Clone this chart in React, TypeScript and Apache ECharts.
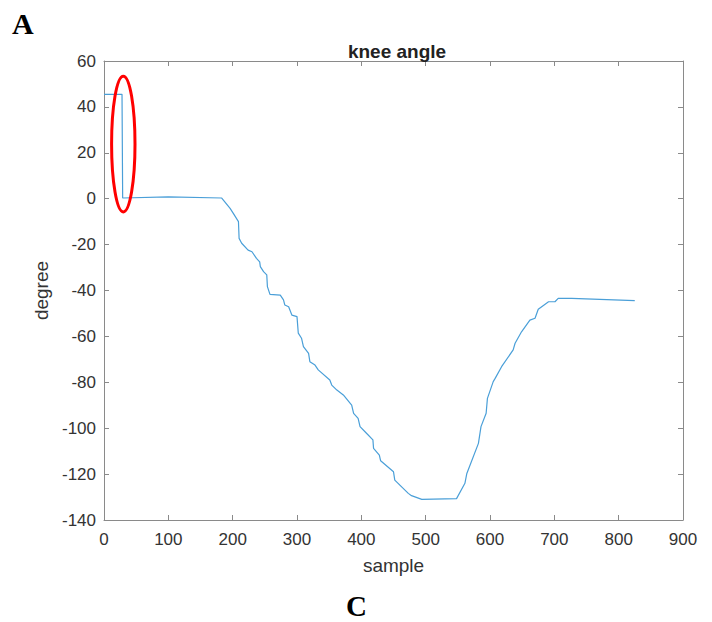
import React, { useEffect, useRef } from "react";
import * as echarts from "echarts";

// sample index along the x axis
const samples: number[] = [
  0, 28, 29, 100, 183, 196, 201, 209, 210, 214, 224, 230, 237, 242, 243, 248, 253, 254, 258,
  274, 279, 281, 287, 292, 300, 302, 307, 310, 318, 320, 328, 333, 351, 354, 362, 372, 385,
  388, 395, 398, 408, 418, 419, 428, 430, 450, 452, 473, 478, 494, 548, 561, 564, 582, 586,
  594, 596, 605, 608, 618, 636, 639, 649, 662, 670, 675, 691, 701, 706, 727, 825,
];
// knee angle in degrees
const angles: number[] = [
  45.5, 45.5, 0.3, 0.8, 0.3, -4.2, -6.4, -10, -17.3, -19.4, -22.4, -23.1, -26, -27.5, -29.6,
  -31.8, -33.2, -38.3, -41.7, -42, -44.1, -46.3, -47.1, -50.7, -51.4, -58.6, -60.8, -64.5,
  -67.4, -71, -72.5, -74.6, -79, -81.2, -83.4, -85.5, -89.9, -93.5, -95.7, -99.3, -102.2,
  -105.1, -108.8, -111.7, -114.2, -119, -122.6, -128.4, -129.4, -131, -130.7, -124, -119.7,
  -106.6, -99.3, -93.5, -87, -79.7, -78.3, -73.2, -65.9, -63, -58, -52.9, -52.1, -48.2,
  -44.9, -44.9, -43.4, -43.4, -44.4,
];
// highlighted region (ellipse) in data units: center and radii
const highlightCenter: [number, number] = [30, 23.8];
const highlightRadius: [number, number] = [18.2, 29.6];

const xMin = 0;
const xMax = 900;
const xStep = 100;
const yMin = -140;
const yMax = 60;
const yStep = 20;

export default function App() {
  const ref = useRef<HTMLDivElement>(null);
  useEffect(() => {
    if (!ref.current) return;
    const chart = echarts.init(ref.current, null, { renderer: "svg" });
    const textColor = "#333333";
    const lineColor = "#8a8a8a";
    const font = "Liberation Sans, Arial, sans-serif";
    const baseAxis = {
      type: "value" as const,
      axisLine: { show: true, onZero: false, lineStyle: { color: lineColor, width: 1 } },
      axisTick: { show: true, inside: true, length: 5, lineStyle: { color: lineColor } },
      splitLine: { show: false },
    };
    chart.setOption({
      animation: false,
      backgroundColor: "#ffffff",
      title: {
        text: "knee angle",
        left: 392,
        top: 37,
        textAlign: "center",
        textStyle: { fontFamily: font, fontSize: 19, fontWeight: "bold", color: "#222" },
      },
      grid: { left: 104, right: 29, top: 61, bottom: 102, containLabel: false },
      xAxis: [
        {
          ...baseAxis,
          position: "bottom",
          min: xMin,
          max: xMax,
          interval: xStep,
          name: "sample",
          nameLocation: "middle",
          nameGap: 36,
          nameTextStyle: { fontFamily: font, fontSize: 19, color: textColor },
          axisLabel: { fontFamily: font, fontSize: 17, color: textColor, margin: 11 },
        },
        {
          ...baseAxis,
          position: "top",
          min: xMin,
          max: xMax,
          interval: xStep,
          axisLabel: { show: false },
        },
      ],
      yAxis: [
        {
          ...baseAxis,
          position: "left",
          min: yMin,
          max: yMax,
          interval: yStep,
          name: "degree",
          nameLocation: "middle",
          nameGap: 51,
          nameTextStyle: { fontFamily: font, fontSize: 19, color: textColor },
          axisLabel: { fontFamily: font, fontSize: 17, color: textColor, margin: 8 },
        },
        {
          ...baseAxis,
          position: "right",
          min: yMin,
          max: yMax,
          interval: yStep,
          axisLabel: { show: false },
        },
      ],
      series: [
        {
          type: "line",
          xAxisIndex: 0,
          yAxisIndex: 0,
          data: samples.map((s, i) => [s, angles[i]]),
          showSymbol: false,
          symbol: "none",
          lineStyle: { color: "#4a9fd8", width: 1.2 },
        },
      ],
    });
    const c = chart.convertToPixel({ gridIndex: 0 }, highlightCenter) as number[];
    const e = chart.convertToPixel({ gridIndex: 0 }, [
      highlightCenter[0] + highlightRadius[0],
      highlightCenter[1] + highlightRadius[1],
    ]) as number[];
    chart.setOption({
      graphic: [
        {
          type: "ellipse",
          shape: { cx: c[0], cy: c[1], rx: Math.abs(e[0] - c[0]), ry: Math.abs(e[1] - c[1]) },
          style: { fill: "none", stroke: "#ff0000", lineWidth: 3 },
          z: 100,
        },
        {
          type: "text",
          left: 12,
          top: 8,
          style: {
            text: "A",
            font: "bold 30px 'Liberation Serif', 'Times New Roman', serif",
            fill: "#000",
          },
        },
        {
          type: "text",
          left: 346,
          top: 591,
          style: {
            text: "C",
            font: "bold 29px 'Liberation Serif', 'Times New Roman', serif",
            fill: "#000",
          },
        },
      ],
    });
    return () => chart.dispose();
  }, []);
  return (
    <div
      ref={ref}
      style={{ position: "fixed", left: 0, top: 0, width: 712, height: 622, background: "#fff" }}
    />
  );
}
